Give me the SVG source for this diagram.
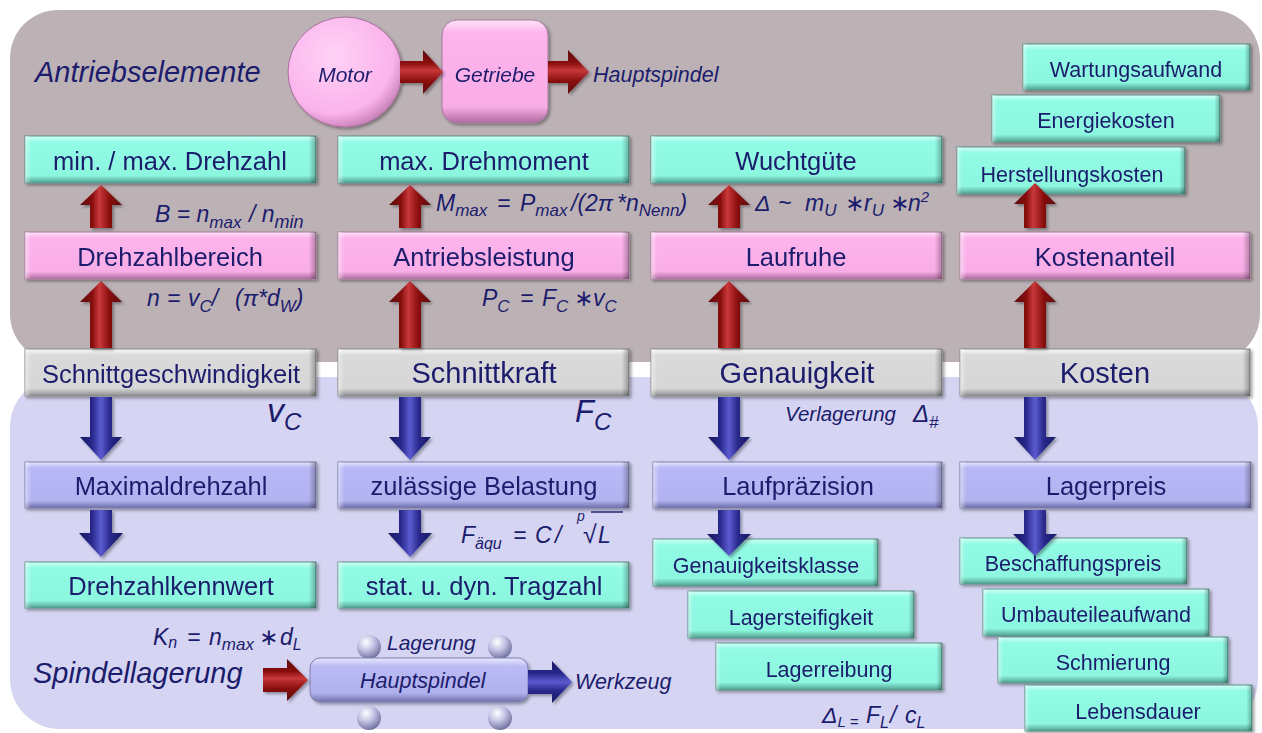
<svg xmlns="http://www.w3.org/2000/svg" width="1262" height="733" viewBox="0 0 1262 733">
<defs>
<style>
.t{font-family:"Liberation Sans",Arial,"DejaVu Sans",sans-serif;fill:#1C1C6C}
.c{text-anchor:middle}
.i{font-style:italic}
.b25{font-size:25.5px}
.b29{font-size:29px}
.b21{font-size:21.5px}
.f{font-size:23px}
.s{font-size:17px}
.teal{fill:url(#gTeal);stroke:#5E9088;stroke-width:1}
.pink{fill:url(#gPink);stroke:#A77A9C;stroke-width:1}
.grey{fill:url(#gGrey);stroke:#8A8A8A;stroke-width:1}
.lav{fill:url(#gLav);stroke:#7E7EA8;stroke-width:1}
.edge{fill:url(#gEdge);stroke:none}
.red{fill:url(#gRedV)}
.redh{fill:url(#gRedH)}
.blue{fill:url(#gBlueV)}
.blueh{fill:url(#gBlueH)}
.ball{fill:url(#gBall)}
</style>
<linearGradient id="gTeal" x1="0" y1="0" x2="0" y2="1">
<stop offset="0" stop-color="#D2FFF6"/><stop offset="0.13" stop-color="#92FBE5"/><stop offset="0.84" stop-color="#8CF6DF"/><stop offset="1" stop-color="#4F9E8E"/>
</linearGradient>
<linearGradient id="gPink" x1="0" y1="0" x2="0" y2="1">
<stop offset="0" stop-color="#FFE2F8"/><stop offset="0.13" stop-color="#FDB3EC"/><stop offset="0.84" stop-color="#F9ADE7"/><stop offset="1" stop-color="#B06A9E"/>
</linearGradient>
<linearGradient id="gGrey" x1="0" y1="0" x2="0" y2="1">
<stop offset="0" stop-color="#FAFAFA"/><stop offset="0.13" stop-color="#DADADA"/><stop offset="0.84" stop-color="#D6D6D6"/><stop offset="1" stop-color="#8A8A8A"/>
</linearGradient>
<linearGradient id="gLav" x1="0" y1="0" x2="0" y2="1">
<stop offset="0" stop-color="#E6E6FF"/><stop offset="0.13" stop-color="#B8B8F6"/><stop offset="0.84" stop-color="#B2B2F0"/><stop offset="1" stop-color="#6C6CA8"/>
</linearGradient>
<linearGradient id="gEdge" x1="0" y1="0" x2="1" y2="0">
<stop offset="0" stop-color="#FFFFFF" stop-opacity="0.45"/><stop offset="0.022" stop-color="#FFFFFF" stop-opacity="0"/><stop offset="0.975" stop-color="#000000" stop-opacity="0"/><stop offset="1" stop-color="#000000" stop-opacity="0.3"/>
</linearGradient>
<linearGradient id="gRedV" x1="0" y1="0" x2="1" y2="0">
<stop offset="0" stop-color="#5A0808"/><stop offset="0.3" stop-color="#8A1010"/><stop offset="0.46" stop-color="#C8383A"/><stop offset="0.7" stop-color="#8A1010"/><stop offset="1" stop-color="#5A0808"/>
</linearGradient>
<linearGradient id="gRedH" x1="0" y1="0" x2="0" y2="1">
<stop offset="0" stop-color="#5A0808"/><stop offset="0.3" stop-color="#8A1010"/><stop offset="0.46" stop-color="#C8383A"/><stop offset="0.7" stop-color="#8A1010"/><stop offset="1" stop-color="#5A0808"/>
</linearGradient>
<linearGradient id="gBlueV" x1="0" y1="0" x2="1" y2="0">
<stop offset="0" stop-color="#16165E"/><stop offset="0.3" stop-color="#2A2A8E"/><stop offset="0.5" stop-color="#5C5CD0"/><stop offset="0.7" stop-color="#2A2A8E"/><stop offset="1" stop-color="#16165E"/>
</linearGradient>
<linearGradient id="gBlueH" x1="0" y1="0" x2="0" y2="1">
<stop offset="0" stop-color="#16165E"/><stop offset="0.3" stop-color="#2A2A8E"/><stop offset="0.5" stop-color="#5C5CD0"/><stop offset="0.7" stop-color="#2A2A8E"/><stop offset="1" stop-color="#16165E"/>
</linearGradient>
<radialGradient id="gMotor" cx="0.4" cy="0.35" r="0.7">
<stop offset="0" stop-color="#FFD2F6"/><stop offset="0.75" stop-color="#FBB3EC"/><stop offset="1" stop-color="#C07AB0"/>
</radialGradient>
<radialGradient id="gBall" cx="0.38" cy="0.3" r="0.75">
<stop offset="0" stop-color="#FFFFFF"/><stop offset="0.45" stop-color="#C4C4E6"/><stop offset="1" stop-color="#6A6A98"/>
</radialGradient>
<linearGradient id="gSpindle" x1="0" y1="0" x2="0" y2="1">
<stop offset="0" stop-color="#E8E8FF"/><stop offset="0.2" stop-color="#BABAF4"/><stop offset="0.8" stop-color="#B0B0EE"/><stop offset="1" stop-color="#7070A8"/>
</linearGradient>
<filter id="sh" x="-5%" y="-15%" width="112%" height="145%">
<feDropShadow dx="2" dy="2" stdDeviation="1.5" flood-color="#000" flood-opacity="0.35"/>
</filter>
</defs>

<rect width="1262" height="733" fill="#FFFFFF"/>
<g id="panels">
<rect x="10" y="10" width="1250" height="352" rx="48" fill="#BCB2B6"/>
<rect x="10" y="377" width="1248" height="352" rx="50" fill="#D5D5F3"/>
</g>

<g id="labels">
<text class="t i" x="35" y="82" font-size="29">Antriebselemente</text>
<text class="t i" x="33" y="683" font-size="29">Spindellagerung</text>
<text class="t i" x="593" y="82" font-size="21.5">Hauptspindel</text>
</g>

<g id="motor" filter="url(#sh)">
<ellipse cx="345" cy="72" rx="57" ry="55" fill="url(#gMotor)" stroke="#A8709A" stroke-width="1"/>
<text class="t i c" x="345" y="82" font-size="21">Motor</text>
</g>
<g id="getriebe" filter="url(#sh)">
<rect x="442" y="20" width="106" height="103" rx="15" fill="url(#gPink)" stroke="#A77A9C"/>
<text class="t i c" x="495" y="82" font-size="21">Getriebe</text>
</g>

<g id="minmax-drehzahl" filter="url(#sh)"><rect class="teal" x="25" y="136" width="291" height="47"/><rect class="edge" x="25" y="136" width="291" height="47"/><text class="t c b25" x="170" y="170">min. / max. Drehzahl</text></g>
<g id="max-drehmoment" filter="url(#sh)"><rect class="teal" x="338" y="136" width="291" height="47"/><rect class="edge" x="338" y="136" width="291" height="47"/><text class="t c b25" x="484" y="170">max. Drehmoment</text></g>
<g id="wuchtguete" filter="url(#sh)"><rect class="teal" x="651" y="136" width="291" height="47"/><rect class="edge" x="651" y="136" width="291" height="47"/><text class="t c b25" x="796" y="170">Wuchtgüte</text></g>

<g id="wartungsaufwand" filter="url(#sh)"><rect class="teal" x="1023" y="44" width="227" height="46"/><rect class="edge" x="1023" y="44" width="227" height="46"/><text class="t c b21" x="1136" y="77">Wartungsaufwand</text></g>
<g id="energiekosten" filter="url(#sh)"><rect class="teal" x="992" y="95" width="228" height="47"/><rect class="edge" x="992" y="95" width="228" height="47"/><text class="t c b21" x="1106" y="128">Energiekosten</text></g>
<g id="herstellungskosten" filter="url(#sh)"><rect class="teal" x="957" y="147" width="228" height="47"/><rect class="edge" x="957" y="147" width="228" height="47"/><text class="t c b21" x="1072" y="182">Herstellungskosten</text></g>

<g id="drehzahlbereich" filter="url(#sh)"><rect class="pink" x="25" y="232" width="291" height="47"/><rect class="edge" x="25" y="232" width="291" height="47"/><text class="t c b25" x="170" y="266">Drehzahlbereich</text></g>
<g id="antriebsleistung" filter="url(#sh)"><rect class="pink" x="338" y="232" width="291" height="47"/><rect class="edge" x="338" y="232" width="291" height="47"/><text class="t c b25" x="484" y="266">Antriebsleistung</text></g>
<g id="laufruhe" filter="url(#sh)"><rect class="pink" x="651" y="232" width="291" height="47"/><rect class="edge" x="651" y="232" width="291" height="47"/><text class="t c b25" x="796" y="266">Laufruhe</text></g>
<g id="kostenanteil" filter="url(#sh)"><rect class="pink" x="960" y="232" width="290" height="47"/><rect class="edge" x="960" y="232" width="290" height="47"/><text class="t c b25" x="1105" y="266">Kostenanteil</text></g>

<g id="schnittgeschwindigkeit" filter="url(#sh)"><rect class="grey" x="25" y="349" width="291" height="47"/><rect class="edge" x="25" y="349" width="291" height="47"/><text class="t c b25" x="171" y="383">Schnittgeschwindigkeit</text></g>
<g id="schnittkraft" filter="url(#sh)"><rect class="grey" x="338" y="349" width="291" height="47"/><rect class="edge" x="338" y="349" width="291" height="47"/><text class="t c b29" x="484" y="383">Schnittkraft</text></g>
<g id="genauigkeit" filter="url(#sh)"><rect class="grey" x="651" y="349" width="291" height="47"/><rect class="edge" x="651" y="349" width="291" height="47"/><text class="t c b29" x="797" y="383">Genauigkeit</text></g>
<g id="kosten" filter="url(#sh)"><rect class="grey" x="960" y="349" width="290" height="47"/><rect class="edge" x="960" y="349" width="290" height="47"/><text class="t c b29" x="1105" y="383">Kosten</text></g>

<g id="maximaldrehzahl" filter="url(#sh)"><rect class="lav" x="25" y="462" width="291" height="46"/><rect class="edge" x="25" y="462" width="291" height="46"/><text class="t c b25" x="171" y="495">Maximaldrehzahl</text></g>
<g id="zulaessige-belastung" filter="url(#sh)"><rect class="lav" x="338" y="462" width="291" height="46"/><rect class="edge" x="338" y="462" width="291" height="46"/><text class="t c b25" x="484" y="495">zulässige Belastung</text></g>
<g id="laufpraezision" filter="url(#sh)"><rect class="lav" x="653" y="462" width="289" height="46"/><rect class="edge" x="653" y="462" width="289" height="46"/><text class="t c b25" x="798" y="495">Laufpräzision</text></g>
<g id="lagerpreis" filter="url(#sh)"><rect class="lav" x="960" y="462" width="291" height="46"/><rect class="edge" x="960" y="462" width="291" height="46"/><text class="t c b25" x="1106" y="495">Lagerpreis</text></g>

<g id="drehzahlkennwert" filter="url(#sh)"><rect class="teal" x="25" y="562" width="291" height="46"/><rect class="edge" x="25" y="562" width="291" height="46"/><text class="t c b25" x="171" y="595">Drehzahlkennwert</text></g>
<g id="tragzahl" filter="url(#sh)"><rect class="teal" x="338" y="562" width="291" height="46"/><rect class="edge" x="338" y="562" width="291" height="46"/><text class="t c b25" x="484" y="595">stat. u. dyn. Tragzahl</text></g>

<g id="genauigkeitsklasse" filter="url(#sh)"><rect class="teal" x="653" y="539" width="225" height="47"/><rect class="edge" x="653" y="539" width="225" height="47"/><text class="t c b21" x="766" y="573">Genauigkeitsklasse</text></g>
<g id="lagersteifigkeit" filter="url(#sh)"><rect class="teal" x="688" y="591" width="226" height="47"/><rect class="edge" x="688" y="591" width="226" height="47"/><text class="t c b21" x="801" y="625">Lagersteifigkeit</text></g>
<g id="lagerreibung" filter="url(#sh)"><rect class="teal" x="716" y="643" width="226" height="47"/><rect class="edge" x="716" y="643" width="226" height="47"/><text class="t c b21" x="829" y="677">Lagerreibung</text></g>

<g id="beschaffungspreis" filter="url(#sh)"><rect class="teal" x="960" y="538" width="227" height="46"/><rect class="edge" x="960" y="538" width="227" height="46"/><text class="t c b21" x="1073" y="571">Beschaffungspreis</text></g>
<g id="umbauteileaufwand" filter="url(#sh)"><rect class="teal" x="983" y="589" width="226" height="47"/><rect class="edge" x="983" y="589" width="226" height="47"/><text class="t c b21" x="1096" y="622">Umbauteileaufwand</text></g>
<g id="schmierung" filter="url(#sh)"><rect class="teal" x="998" y="637" width="230" height="46"/><rect class="edge" x="998" y="637" width="230" height="46"/><text class="t c b21" x="1113" y="670">Schmierung</text></g>
<g id="lebensdauer" filter="url(#sh)"><rect class="teal" x="1025" y="685" width="227" height="46"/><rect class="edge" x="1025" y="685" width="227" height="46"/><text class="t c b21" x="1138" y="719">Lebensdauer</text></g>

<g id="spindle">
<circle class="ball" cx="369" cy="647" r="12"/>
<circle class="ball" cx="500" cy="647" r="12"/>
<circle class="ball" cx="369" cy="718" r="12"/>
<circle class="ball" cx="500" cy="718" r="12"/>
<rect x="310" y="658" width="218" height="44" rx="10" fill="url(#gSpindle)" stroke="#8080B0" filter="url(#sh)"/>
<text class="t i" x="360" y="688" font-size="21.5">Hauptspindel</text>
<text class="t i" x="387" y="650" font-size="21">Lagerung</text>
<text class="t i" x="575" y="689" font-size="21.5">Werkzeug</text>
</g>

<g id="connectors" filter="url(#sh)">
<path class="redh" d="M400,61 L423,61 L423,50 L443,72 L423,94 L423,83 L400,83 Z"/>
<path class="redh" d="M548,61 L568,61 L568,50 L589,72 L568,94 L568,83 L548,83 Z"/>

<path class="red" d="M101,185 L122,205 L112,205 L112,228 L90,228 L90,205 L80,205 Z"/>
<path class="red" d="M410,185 L431,205 L421,205 L421,228 L399,228 L399,205 L389,205 Z"/>
<path class="red" d="M729,185 L750,205 L740,205 L740,228 L718,228 L718,205 L708,205 Z"/>
<path class="red" d="M1035,183 L1056,204 L1046,204 L1046,228 L1024,228 L1024,204 L1014,204 Z"/>

<path class="red" d="M101,281 L122,302 L112,302 L112,348 L90,348 L90,302 L80,302 Z"/>
<path class="red" d="M410,281 L431,302 L421,302 L421,348 L399,348 L399,302 L389,302 Z"/>
<path class="red" d="M729,281 L750,302 L740,302 L740,348 L718,348 L718,302 L708,302 Z"/>
<path class="red" d="M1035,281 L1056,302 L1046,302 L1046,348 L1024,348 L1024,302 L1014,302 Z"/>

<path class="blue" d="M90,397 L112,397 L112,437 L122,437 L101,460 L80,437 L90,437 Z"/>
<path class="blue" d="M399,397 L421,397 L421,437 L431,437 L410,460 L389,437 L399,437 Z"/>
<path class="blue" d="M718,397 L740,397 L740,437 L750,437 L729,460 L708,437 L718,437 Z"/>
<path class="blue" d="M1024,397 L1046,397 L1046,437 L1056,437 L1035,460 L1014,437 L1024,437 Z"/>

<path class="blue" d="M90,510 L112,510 L112,533 L123,533 L101,557 L79,533 L90,533 Z"/>
<path class="blue" d="M399,510 L421,510 L421,533 L432,533 L410,557 L388,533 L399,533 Z"/>
<path class="blue" d="M718,510 L740,510 L740,534 L751,534 L729,556 L707,534 L718,534 Z"/>
<path class="blue" d="M1024,510 L1046,510 L1046,534 L1057,534 L1035,556 L1013,534 L1024,534 Z"/>

<path class="redh" d="M263,668 L287,668 L287,659 L308,680 L287,701 L287,692 L263,692 Z"/>
<path class="blueh" d="M528,670 L552,670 L552,661 L572,682 L552,703 L552,694 L528,694 Z"/>
</g>

<g id="formulas" class="t i">
<text y="222"><tspan x="155" class="f">B = n</tspan><tspan dy="6" class="s">max</tspan><tspan x="249" dy="-6" class="f">/ n</tspan><tspan dy="6" font-size="18">min</tspan></text>
<text y="211"><tspan x="436" class="f">M</tspan><tspan dy="5" class="s">max</tspan><tspan x="497" dy="-5" class="f">=</tspan><tspan x="520" class="f">P</tspan><tspan dy="5" class="s">max</tspan><tspan x="571" dy="-5" class="f">/(2π</tspan><tspan x="617" class="f">*n</tspan><tspan dy="5" class="s">Nenn</tspan><tspan dy="-5" class="f">)</tspan></text>
<text y="211"><tspan x="755" class="f">Δ</tspan><tspan x="778" class="f">~</tspan><tspan x="805" class="f">m</tspan><tspan dy="5" class="s">U</tspan><tspan x="845" dy="-5" class="f">∗</tspan><tspan x="864" class="f">r</tspan><tspan dy="5" class="s">U</tspan><tspan x="890" dy="-5" class="f">∗</tspan><tspan x="908" class="f">n</tspan><tspan dy="-9" font-size="15">2</tspan></text>
<text y="306"><tspan x="147" class="f">n</tspan><tspan x="167" class="f">=</tspan><tspan x="188" class="f">v</tspan><tspan dy="6" class="s">C</tspan><tspan dy="-6" class="f">/</tspan><tspan x="235" class="f">(π*d</tspan><tspan dy="6" class="s">W</tspan><tspan dy="-6" class="f">)</tspan></text>
<text y="306"><tspan x="482" class="f">P</tspan><tspan dy="6" class="s">C</tspan><tspan x="520" dy="-6" class="f">=</tspan><tspan x="542" class="f">F</tspan><tspan dy="6" class="s">C</tspan><tspan x="574" dy="-6" class="f">∗</tspan><tspan x="593" class="f">v</tspan><tspan dy="6" class="s">C</tspan></text>
<text y="422"><tspan x="267" font-size="34">v</tspan><tspan dy="8" font-size="24">C</tspan></text>
<text y="422"><tspan x="575" font-size="31">F</tspan><tspan dy="8" font-size="24">C</tspan></text>
<text y="421"><tspan x="785" font-size="20.5">Verlagerung</tspan><tspan x="913" dy="1" font-size="24">Δ</tspan><tspan dy="6" font-size="17">#</tspan></text>
<text y="543"><tspan x="461" class="f">F</tspan><tspan dy="6" font-size="16">äqu</tspan><tspan x="513" dy="-6" class="f">=</tspan><tspan x="535" class="f">C</tspan><tspan x="555" class="f">/</tspan><tspan x="577" dy="-22" font-size="14">p</tspan><tspan x="583" dy="22" font-size="25">√</tspan><tspan x="598" class="f">L</tspan></text>
<text y="645"><tspan x="153" class="f">K</tspan><tspan dy="3" font-size="16">n</tspan><tspan x="187" dy="-3" class="f">=</tspan><tspan x="209" class="f">n</tspan><tspan dy="5" class="s">max</tspan><tspan x="259" dy="-5" class="f">∗</tspan><tspan x="280" class="f">d</tspan><tspan dy="5" font-size="16">L</tspan></text>
<text y="723"><tspan x="822" class="f">Δ</tspan><tspan dy="4" font-size="15">L =</tspan><tspan x="866" dy="-4" class="f">F</tspan><tspan dy="5" font-size="16">L</tspan><tspan x="890" dy="-5" class="f">/</tspan><tspan x="905" class="f">c</tspan><tspan dy="5" font-size="16">L</tspan></text>
</g>
<line x1="591" y1="512" x2="623" y2="512" stroke="#1C1C6C" stroke-width="1.4"/>
</svg>
